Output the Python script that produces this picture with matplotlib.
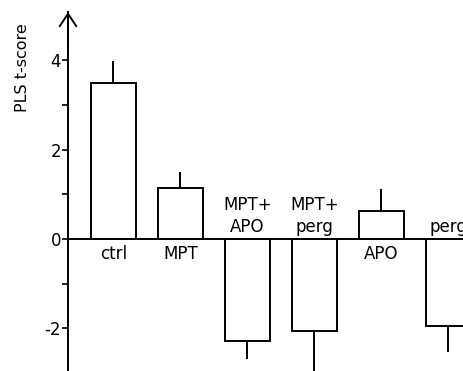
"""
plot.py
"""

import matplotlib as mpl
import matplotlib.pyplot as plt

mpl.use("Agg")

# 各群の PLS t-score と誤差.
groups = ["ctrl", "MPT", "MPT+\nAPO", "MPT+\nperg", "APO", "perg"]
scores = [3.49, 1.13, -2.28, -2.06, 0.63, -1.95]
errors = [0.50, 0.37, 0.41, 0.95, 0.49, 0.57]

plt.rcParams["font.family"] = ["DejaVu Sans"]
plt.rcParams["axes.unicode_minus"] = False

fig = plt.figure(figsize=(4.64, 3.71), dpi=100)
ax = fig.add_axes((68 / 464, 0.0, 1 - 68 / 464, 359 / 371))

xs = list(range(len(groups)))
ax.bar(xs, scores, width=0.67, color="white", edgecolor="black", linewidth=1.4, zorder=2)

# 片側だけの誤差棒 (0 から離れる方向).
lower = [0 if s > 0 else e for s, e in zip(scores, errors)]
upper = [e if s > 0 else 0 for s, e in zip(scores, errors)]
ax.errorbar(xs, scores, yerr=[lower, upper], fmt="none", ecolor="black",
            elinewidth=1.4, capsize=0, zorder=1)

ax.axhline(0, color="black", linewidth=1.4, zorder=3)

# ラベル: 正の棒は下, 負の棒は上.
for x, s, g in zip(xs, scores, groups):
    if s > 0:
        ax.text(x, -0.13, g, ha="center", va="top", fontsize=12)
    else:
        ax.text(x, 0.07, g, ha="center", va="bottom", fontsize=12, linespacing=1.3)

ax.set_xlim(-0.676, 5.234)
ax.set_ylim(-2.953, 5.078)

for side in ("top", "right", "bottom"):
    ax.spines[side].set_visible(False)
ax.spines["left"].set_linewidth(1.4)
ax.set_xticks([])
ax.set_yticks([-2, 0, 2, 4])
ax.set_yticks([-1, 1, 3], minor=True)
ax.tick_params(axis="y", which="both", direction="out", length=4, width=1.2, labelsize=12, pad=1)

# 縦軸先端の矢印.
ax.annotate("", xy=(0, 1), xycoords="axes fraction", xytext=(0, 0.9),
            arrowprops=dict(arrowstyle="->,head_length=0.9,head_width=0.6", lw=1.4,
                            color="black", mutation_scale=10, shrinkA=0, shrinkB=0),
            annotation_clip=False)

fig.text(23 / 464, 1 - 68 / 371, "PLS t-score", rotation=90, ha="center", va="center", fontsize=11.5)

fig.savefig("out.png", dpi=100)
